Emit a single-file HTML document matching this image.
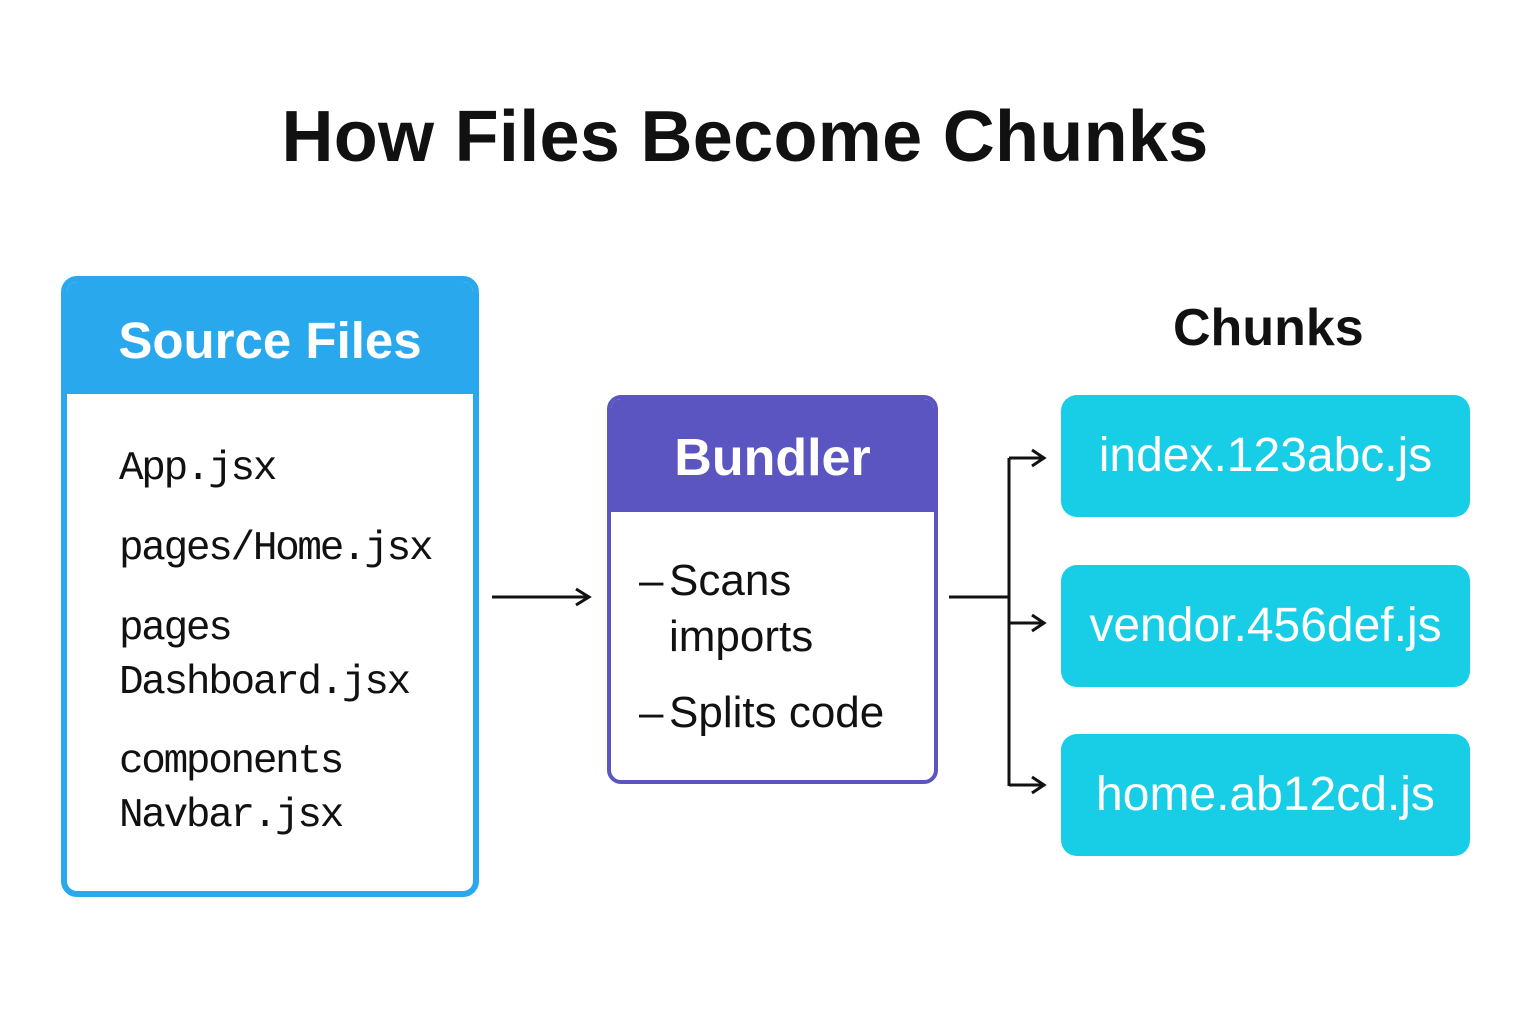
<!DOCTYPE html>
<html><head><meta charset="utf-8"><style>
body{margin:0;width:1536px;height:1024px;background:#fff;position:relative;overflow:hidden;font-family:"Liberation Sans",sans-serif}
.a{position:absolute}
.title{left:0;width:1490px;top:96px;text-align:center;font-size:72px;font-weight:bold;color:#111;letter-spacing:0.3px}
.src{left:61px;top:276px;width:406px;height:609px;border:6px solid #29a8ee;border-radius:16px;overflow:hidden}
.src .h{height:112px;background:#29a8ee;color:#fff;font-weight:bold;font-size:51px;text-align:center;line-height:118px}
.mono{font-family:"Liberation Mono",monospace;font-size:41px;letter-spacing:-2.3px;color:#111;position:absolute;left:52px;line-height:54px}
.bun{left:607px;top:395px;width:323px;height:381px;border:4px solid #5b55c2;border-radius:14px;overflow:hidden}
.bun .h{height:113px;background:#5b55c2;color:#fff;font-weight:bold;font-size:52px;text-align:center;line-height:118px}
.bt{position:absolute;font-size:44px;color:#111;line-height:56px}
.ch{left:1061px;width:409px;height:122px;background:#18cde6;border-radius:16px;color:#fff;font-size:48px;text-align:center;line-height:122px}
</style></head><body>
<div class="a title">How Files Become Chunks</div>
<div class="a src"><div class="h">Source Files</div>
<div class="mono" style="top:160px">App.jsx</div>
<div class="mono" style="top:240px">pages/Home.jsx</div>
<div class="mono" style="top:320px">pages<br>Dashboard.jsx</div>
<div class="mono" style="top:453px">components<br>Navbar.jsx</div>
</div>
<div class="a bun"><div class="h">Bundler</div>
<div class="bt" style="left:28px;top:154px">–</div>
<div class="bt" style="left:58px;top:154px">Scans<br>imports</div>
<div class="bt" style="left:28px;top:286px">–</div>
<div class="bt" style="left:58px;top:286px">Splits code</div>
</div>
<div class="a" style="left:1173px;top:298px;font-size:52px;font-weight:bold;color:#111">Chunks</div>
<div class="a ch" style="top:395px">index.123abc.js</div>
<div class="a ch" style="top:565px">vendor.456def.js</div>
<div class="a ch" style="top:734px">home.ab12cd.js</div>
<svg class="a" style="left:0;top:0" width="1536" height="1024">
<g stroke="#111" stroke-width="3" fill="none">
<line x1="492" y1="597" x2="588" y2="597"/><polyline points="576,589 589,597 576,605"/>
<line x1="949" y1="597" x2="1009" y2="597"/>
<line x1="1009" y1="458" x2="1009" y2="786"/>
<line x1="1009" y1="458" x2="1043" y2="458"/><polyline points="1032,450 1044,458 1032,466"/>
<line x1="1009" y1="623" x2="1043" y2="623"/><polyline points="1032,615 1044,623 1032,631"/>
<line x1="1009" y1="785" x2="1043" y2="785"/><polyline points="1032,777 1044,785 1032,793"/>
</g></svg>
</body></html>
